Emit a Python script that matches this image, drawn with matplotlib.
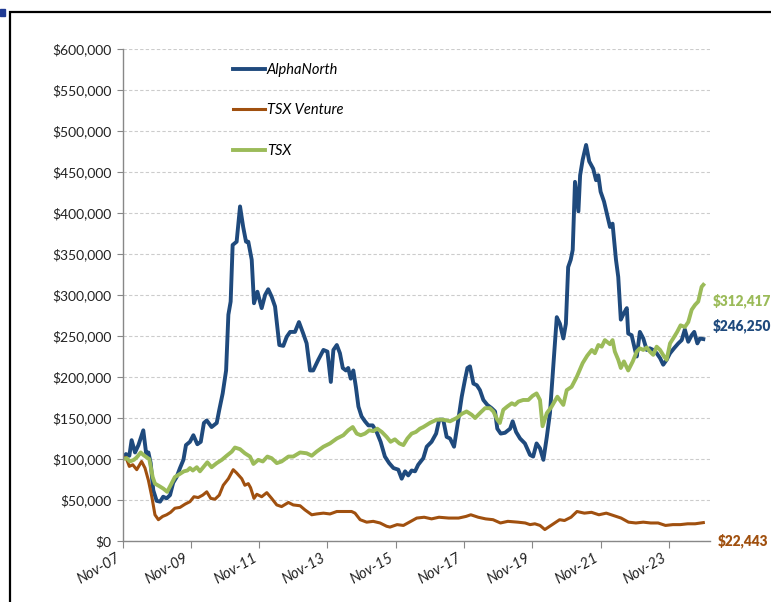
import matplotlib.pyplot as plt
from matplotlib.patches import Rectangle
from matplotlib.ticker import FuncFormatter, MultipleLocator

# growth of $100,000 invested Nov-07; x = months since Nov-07, values in $000s
alpha_month = [0, 1.2, 2.4, 3.2, 4.4, 5.6, 7.3, 8.3, 9.1, 9.9, 10.8, 12.0, 13.2, 14.3,
               15.5, 16.7, 17.8, 19.0, 20.2, 21.4, 22.3, 23.7, 24.9, 26.3, 27.5, 28.6,
               29.6, 31.3, 33.1, 34.0, 35.2, 36.4, 37.2, 38.0, 38.7, 40.1, 41.3, 42.4,
               43.4, 44.2, 45.4, 46.2, 47.4, 48.9, 50.1, 51.2, 52.4, 53.6, 55.1, 56.5,
               57.7, 58.9, 60.6, 62.0, 63.5, 64.7, 65.9, 67.0, 68.8, 70.6, 72.0, 73.2,
               74.1, 75.3, 76.4, 77.4, 78.5, 79.3, 80.2, 81.1, 82.0, 82.9, 84.0, 85.2,
               86.4, 87.9, 89.3, 90.7, 92.2, 93.7, 95.2, 96.9, 98.1, 99.3, 100.4, 101.6,
               102.8, 103.9, 105.7, 106.9, 108.6, 110.2, 111.3, 112.7, 113.9, 115.1,
               116.5, 118.0, 119.2, 120.3, 121.2, 122.1, 123.3, 124.5, 125.6, 126.8,
               128.2, 129.7, 130.9, 131.7, 132.9, 134.4, 136.2, 137.1, 138.3, 139.7,
               141.4, 143.2, 144.3, 145.5, 146.7, 147.9, 149.1, 150.2, 151.2, 152.6,
               153.7, 154.9, 155.8, 156.6, 157.5, 158.2, 159.0, 160.2, 160.8, 161.7,
               162.9, 164.0, 165.4, 166.4, 167.2, 168.0, 169.2, 170.3, 171.3, 172.2,
               173.4, 174.2, 175.1, 176.2, 177.2, 177.7, 178.9, 180.1, 180.7, 181.8,
               183.0, 184.2, 185.3, 186.5, 187.7, 188.9, 190.0, 191.2, 192.4, 193.8,
               195.3, 196.5, 197.6, 198.8, 200.0, 200.9, 202.0, 202.9, 204.1]
alpha_value = [100, 106, 104, 123, 108, 117, 135, 107, 108, 95, 62, 49, 48, 54,
               52, 56, 71, 78, 89, 99, 117, 121, 129, 118, 121, 144,
               147, 139, 144, 160, 180, 208, 276, 292, 361, 365, 408, 383,
               365, 365, 343, 290, 304, 284, 300, 307, 298, 286, 239, 238,
               249, 255, 255, 267, 253, 241, 208, 208, 221, 233, 231, 194,
               233, 239, 229, 211, 208, 211, 198, 208, 188, 164, 152, 146,
               141, 141, 133, 121, 103, 95, 89, 87, 76, 85, 80, 86,
               85, 93, 101, 115, 121, 131, 148, 148, 127, 125,
               115, 148, 176, 196, 211, 213, 192, 190, 184, 172,
               166, 162, 158, 137, 131, 132, 137, 146, 133, 125,
               119, 105, 103, 119, 113, 99, 127, 156, 204, 273,
               265, 247, 265, 334, 343, 355, 438, 402, 446, 465,
               483, 463, 454, 440, 446, 426, 414, 398, 383, 387,
               343, 322, 270, 278, 284, 253, 251, 233, 225, 255,
               247, 233, 235, 233, 229, 223, 215, 221, 229, 235,
               241, 245, 258, 243, 251, 255, 241, 247, 246.25]

venture_month = [0, 1.2, 2.4, 3.6, 5.0, 6.7, 7.9, 9.1, 10.3, 11.4, 12.6, 14.1, 15.5,
                 16.9, 18.4, 20.2, 22.0, 23.7, 25.1, 26.6, 28.2, 29.6, 31.0, 32.5,
                 34.0, 35.4, 37.2, 38.9, 40.1, 41.9, 43.0, 44.2, 45.0, 46.2, 47.2,
                 48.9, 50.7, 52.4, 54.2, 55.9, 58.3, 60.0, 62.4, 64.1, 66.5, 68.2,
                 70.6, 72.9, 75.3, 77.6, 80.5, 81.7, 83.5, 85.8, 88.1, 90.5, 92.8,
                 94.0, 96.5, 98.7, 100.8, 103.4, 106.0, 108.6, 111.2, 114.6, 118.1,
                 120.7, 122.4, 125.0, 127.6, 130.2, 132.8, 135.4, 138.9, 141.5, 143.2,
                 144.9, 146.7, 148.4, 151.0, 153.6, 155.3, 157.6, 159.7, 162.3, 164.8,
                 167.4, 170.0, 172.6, 175.2, 177.8, 180.4, 183.0, 185.6, 188.2, 190.8,
                 193.4, 196.0, 198.6, 201.2, 204.1]
venture_value = [100, 102, 91, 93, 87, 97, 89, 74, 54, 32, 26, 30, 32,
                 35, 40, 41, 45, 48, 54, 53, 56, 60, 52, 51,
                 56, 68, 76, 87, 83, 76, 68, 70, 65, 52, 57,
                 54, 59, 52, 44, 42, 47, 44, 43, 38, 32, 33,
                 34, 33, 36, 36, 36, 34, 26, 23, 24, 22, 18,
                 17, 20, 19, 23, 28, 29, 27, 29, 28, 28,
                 30, 32, 29, 27, 26, 22, 24, 23, 22, 20,
                 21, 19, 14, 20, 26, 25, 29, 36, 34, 35,
                 32, 34, 31, 28, 23, 22, 23, 22, 22, 19,
                 20, 20, 21, 21, 22.443]

tsx_month = [0, 1.5, 2.6, 4.0, 5.0, 6.4, 7.3, 8.5, 9.4, 10.6, 11.4, 12.9, 14.3, 15.7,
             16.9, 18.4, 20.2, 21.6, 22.8, 23.7, 24.7, 26.1, 27.2, 28.6, 29.8, 31.3,
             33.1, 34.9, 36.6, 38.4, 39.5, 41.3, 43.0, 44.8, 46.0, 47.7, 49.3, 50.9,
             52.4, 54.2, 55.9, 58.3, 60.0, 62.4, 64.7, 66.5, 68.2, 70.6, 72.9, 75.3,
             77.6, 79.3, 80.9, 82.3, 83.7, 85.2, 86.7, 88.1, 89.5, 91.1, 92.8, 94.2,
             95.7, 97.3, 98.7, 100.1, 101.6, 103.1, 104.5, 105.7, 108.0, 110.4, 112.7,
             115.1, 117.4, 119.2, 120.9, 122.7, 123.9, 125.6, 127.4, 129.1, 130.3,
             131.7, 132.6, 133.8, 135.2, 136.8, 137.9, 139.1, 140.8, 142.6, 144.1,
             145.5, 146.7, 147.6, 149.1, 150.8, 152.8, 154.9, 156.1, 157.8, 159.6,
             161.7, 163.3, 164.9, 166.0, 167.2, 168.4, 169.5, 171.3, 172.2, 173.0,
             174.2, 175.1, 176.2, 177.7, 179.3, 180.7, 181.8, 183.0, 184.2, 185.3,
             186.5, 187.7, 188.9, 190.3, 191.2, 192.4, 193.5, 194.9, 196.1, 197.6,
             198.8, 200.0, 201.2, 202.3, 203.5, 204.1]
tsx_value = [100, 101, 97, 99, 102, 108, 105, 102, 100, 78, 70, 67, 64, 60,
             68, 78, 82, 85, 86, 89, 86, 90, 85, 91, 96, 90,
             95, 99, 104, 109, 114, 112, 107, 103, 94, 99, 97, 103,
             101, 95, 97, 103, 103, 108, 107, 104, 109, 115, 119, 125,
             129, 135, 139, 131, 129, 131, 135, 134, 137, 133, 127, 121,
             124, 119, 117, 125, 131, 133, 137, 139, 144, 148, 148,
             146, 150, 155, 158, 154, 150, 156, 162, 162, 158,
             148, 144, 160, 164, 168, 166, 170, 172, 172, 177,
             180, 172, 140, 156, 164, 176, 166, 184, 188, 200,
             217, 226, 233, 229, 239, 237, 245, 240, 245, 231,
             221, 211, 219, 208, 219, 231, 235, 233, 236, 231,
             227, 237, 233, 225, 221, 241, 247, 255, 263, 261,
             267, 282, 288, 292, 310, 312.417]

tick_labels = ["Nov-07", "Nov-09", "Nov-11", "Nov-13", "Nov-15",
               "Nov-17", "Nov-19", "Nov-21", "Nov-23"]

BLUE = "#1F4A7D"
BROWN = "#A0500F"
GREEN = "#9BBB59"

plt.rcParams["font.family"] = ["Lato", "DejaVu Sans"]

fig = plt.figure(figsize=(7.71, 6.02), dpi=100)
ax = fig.add_axes([0.1589, 0.1013, 0.7622, 0.8173])

ax.plot(alpha_month, [v * 1000 for v in alpha_value], color=BLUE, lw=2.8,
        label="AlphaNorth", solid_joinstyle="round")
ax.plot(venture_month, [v * 1000 for v in venture_value], color=BROWN, lw=2.2,
        label="TSX Venture", solid_joinstyle="round")
ax.plot(tsx_month, [v * 1000 for v in tsx_value], color=GREEN, lw=2.8,
        label="TSX", solid_joinstyle="round")

ax.set_xlim(0, 206.5)
ax.set_ylim(0, 600000)
ax.yaxis.set_major_locator(MultipleLocator(50000))
ax.yaxis.set_major_formatter(FuncFormatter(lambda v, p: f"${v:,.0f}"))
ax.set_xticks(range(0, 193, 24))
ax.set_xticklabels(tick_labels, rotation=30, ha="right", style="italic",
                   fontsize=10.5, color="#222222")
ax.tick_params(axis="y", labelsize=10, labelcolor="#222222", length=4,
               color="#888888", pad=4)
ax.tick_params(axis="x", length=5, color="#888888", pad=2)

ax.grid(axis="y", color="#CCCCCC", ls=(0, (3, 2)), lw=0.8)
ax.set_axisbelow(True)
for s in ("top", "right"):
    ax.spines[s].set_visible(False)
for s in ("left", "bottom"):
    ax.spines[s].set_color("#888888")
    ax.spines[s].set_linewidth(1.0)

ax.legend(loc="upper left", bbox_to_anchor=(0.165, 0.998), frameon=False,
          handlelength=2.2, handletextpad=0.15, labelspacing=1.8,
          prop={"style": "italic", "size": 10.5})

# final values, placed in figure pixels (from bottom-left)
fig.text(713, 602 - 301, "$312,417", color=GREEN, fontsize=9.8,
         fontweight="heavy", va="center")
fig.text(713, 602 - 326, "$246,250", color=BLUE, fontsize=9.8,
         fontweight="heavy", va="center")
fig.text(718, 602 - 541, "$22,443", color=BROWN, fontsize=9.8,
         fontweight="heavy", va="center")
for t in fig.texts:
    t.set_transform(None)

# surrounding frame from the original page
fig.patches.append(Rectangle((10 / 771, -0.1), 1.2, 1 - 12 / 602 + 0.1,
                             transform=fig.transFigure, fill=False,
                             edgecolor="black", lw=1.6))
fig.patches.append(Rectangle((0, 1 - 16 / 602), 5 / 771, 7 / 602,
                             transform=fig.transFigure, color="#1F3A93"))

fig.savefig("out.png", dpi=100)
